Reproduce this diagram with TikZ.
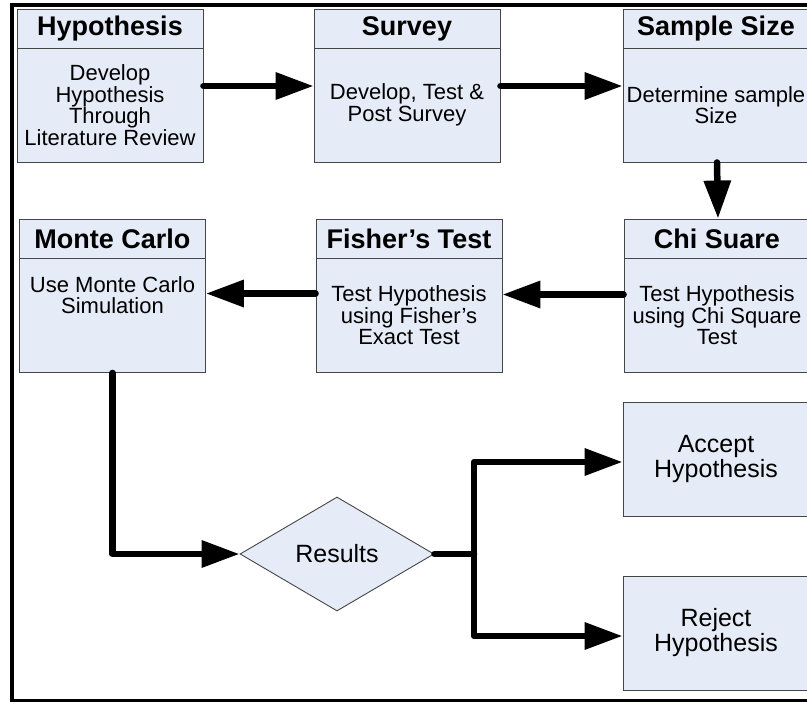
\documentclass[tikz,border=0pt]{standalone}
\usepackage{fontspec}
\setmainfont{Liberation Sans}
\usetikzlibrary{arrows.meta,shapes.geometric}
\definecolor{boxfill}{RGB}{230,236,247}
\definecolor{boxline}{RGB}{70,70,70}
\begin{document}
\begin{tikzpicture}[x=1pt,y=-1pt,
  hdr/.style={draw=boxline, fill=boxfill, line width=0.9pt, minimum width=186pt, minimum height=39pt, inner sep=0pt, font=\fontsize{27}{30}\selectfont\bfseries},
  bdy/.style={draw=boxline, fill=boxfill, line width=0.9pt, minimum width=186pt, minimum height=114pt, inner sep=0pt, align=center, font=\fontsize{22}{21.5}\selectfont},
  bodytxt/.style={inner sep=0pt, align=center, font=\fontsize{22}{21.5}\selectfont},
  outcome/.style={draw=boxline, fill=boxfill, line width=0.9pt, minimum width=186pt, minimum height=114pt, inner sep=0pt, align=center, font=\fontsize{25}{25}\selectfont},
  decision/.style={diamond, draw=boxline, fill=boxfill, line width=0.9pt, aspect=1.7, minimum width=194pt, minimum height=114pt, inner sep=0pt, font=\fontsize{25}{25}\selectfont},
  conn/.style={line width=6.5pt, line cap=round, line join=round, -{Triangle[length=38pt,width=26pt]}},
  connline/.style={line width=6.5pt, line cap=round, line join=round}]
\useasboundingbox (0,0) rectangle (807,702);
\draw[line width=4pt] (12,5) rectangle (840,701);
% top row
\node[hdr] (hyph) at (110,28.5) {Hypothesis};
\node[bdy] (hypb) at (110,105) {Develop\\Hypothesis\\Through\\Literature Review};
\node[hdr] (survh) at (407,28.5) {Survey};
\node[bdy] (survb) at (407,105) {Develop, Test \&\\Post Survey};
\node[hdr] (samph) at (716,28.5) {Sample Size};
\node[bdy] (sampb) at (716,105) {Determine sample\\Size};
% middle row
\node[hdr] (mch) at (112.5,238.5) {Monte Carlo};
\node[bdy] (mcb) at (112.5,315.5) {};
\node[bodytxt] (mct) at (112.5,295) {Use Monte Carlo\\Simulation};
\node[hdr] (fish) at (409,238.5) {Fisher’s Test};
\node[bdy] (fisb) at (409,315.5) {Test Hypothesis\\using Fisher’s\\Exact Test};
\node[hdr] (chih) at (717,238.5) {Chi Suare};
\node[bdy] (chib) at (717,315.5) {Test Hypothesis\\using Chi Square\\Test};
% bottom
\node[decision] (res) at (337,554) {Results};
\node[outcome] (acc) at (716,459) {Accept\\Hypothesis};
\node[outcome] (rej) at (716,633) {Reject\\Hypothesis};
\coordinate (br) at (474,554);
% connectors
\draw[conn] ([yshift=19pt]hypb.east) -- ([yshift=19pt]survb.west);
\draw[conn] ([yshift=19pt]survb.east) -- ([yshift=19pt]sampb.west);
\draw[conn] ([xshift=1pt]sampb.south) -- ([xshift=1pt]chih.north);
\draw[conn] ([yshift=21pt]chib.west) -- ([yshift=21pt]fisb.east);
\draw[conn] ([yshift=22pt]fisb.west) -- ([yshift=22pt]mcb.east);
\draw[conn] (mcb.south) |- (res.west);
\draw[connline] (res.east) -- (br);
\draw[conn] (br) |- ([yshift=-3pt]acc.west);
\draw[conn] (br) |- ([yshift=-3pt]rej.west);
\end{tikzpicture}
\end{document}
